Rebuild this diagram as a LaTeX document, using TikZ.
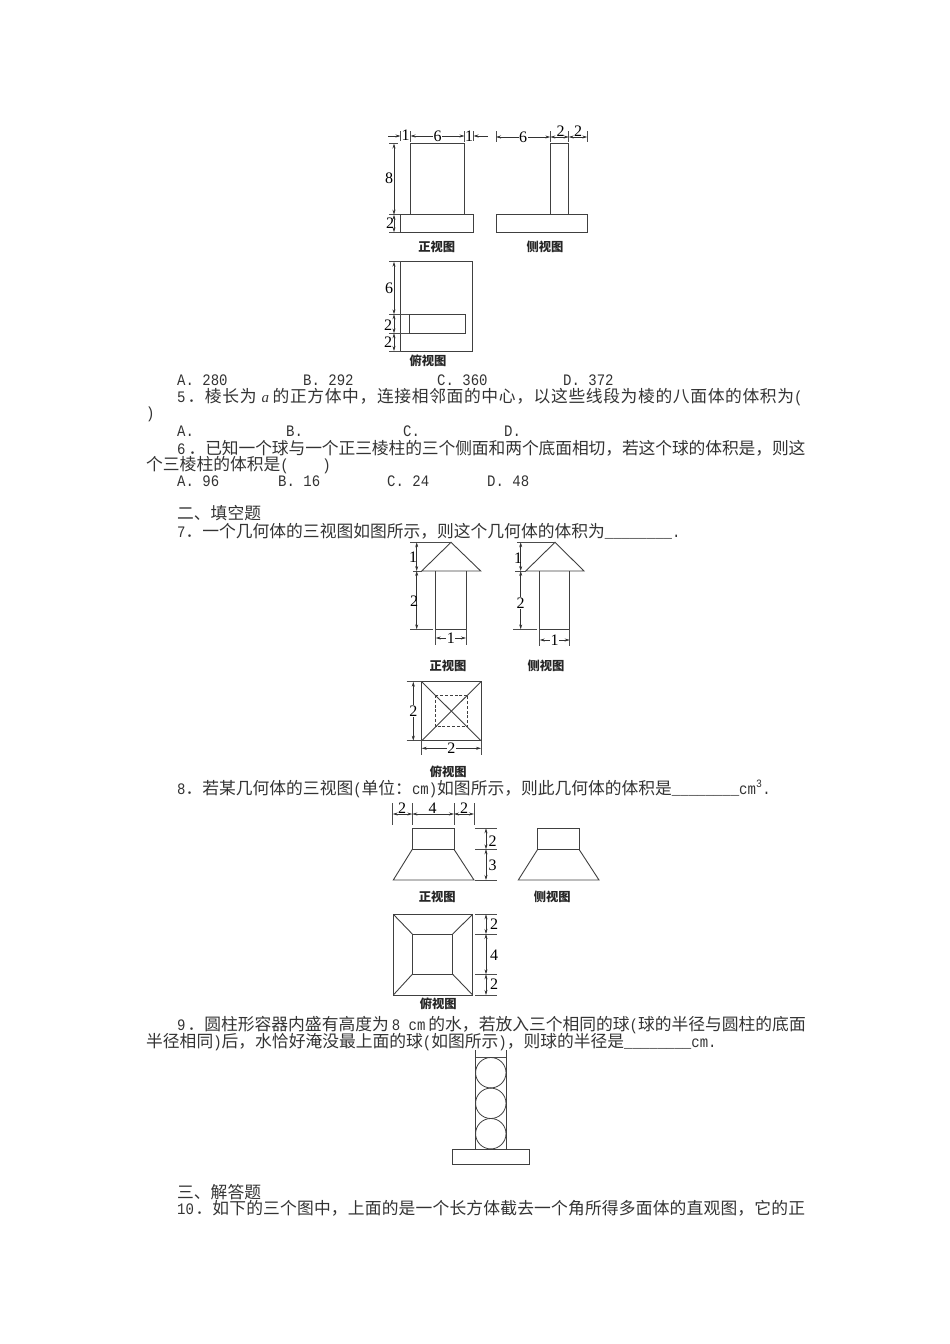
\documentclass[tikz,border=0pt]{standalone}
\usepackage{fontspec}
\usetikzlibrary{arrows.meta}
\newfontfamily\cjk{Noto Sans CJK SC}
\newfontfamily\latn[FakeStretch=0.875]{Liberation Mono}
\newfontfamily\numf{Liberation Serif}
\newcommand{\la}[1]{{\fontsize{16}{17}\selectfont\latn #1}}
\begin{document}
\begin{tikzpicture}[
  x=1pt, y=-1pt,
  txt/.style={anchor=base west, inner sep=0pt, text=black!80, font=\fontsize{16.77}{20}\selectfont\cjk},
  viewname/.style={inner sep=0pt, text=black!85, font=\fontsize{12.3}{14}\selectfont\cjk\bfseries},
  numlab/.style={inner sep=0.6pt, text=black, font=\fontsize{16}{17}\selectfont\numf},
  bodyline/.style={draw=black!75, line width=0.9pt},
  tickline/.style={draw=black!70, line width=0.6pt},
  dimline/.style={draw=black!80, line width=0.6pt, {Stealth[length=5pt,width=3pt]}-{Stealth[length=5pt,width=3pt]}},
  halfdim/.style={draw=black!80, line width=0.6pt, -{Stealth[length=5pt,width=3pt]}}
]
\useasboundingbox (0,0) rectangle (950,1344);

% first figure, front and side
\draw[bodyline] (410.5,143.5) rectangle (464.5,214.7);
\draw[bodyline] (400.7,214.7) rectangle (473.3,232.3);
\draw[bodyline] (550.3,143.5) rectangle (568.7,214.7);
\draw[bodyline] (496.7,214.7) rectangle (587.7,232.3);
\draw[tickline] (400.5,131) -- (400.5,141);
\draw[tickline] (410.5,131) -- (410.5,142);
\draw[tickline] (464.5,131) -- (464.5,142);
\draw[tickline] (473.5,131) -- (473.5,141);
\draw[halfdim] (388,136) -- (400.5,136);
\draw[halfdim] (488,136) -- (473.5,136);
\draw[dimline] (410.5,136) -- node[numlab,fill=white] (dimA) {6} (464.5,136);
\node[numlab] (dimB) at (405.7,135.5) {1};
\node[numlab] (dimC) at (469,136.5) {1};
\draw[tickline] (496,131) -- (496,142);
\draw[tickline] (550.3,131) -- (550.3,142);
\draw[tickline] (568.7,131) -- (568.7,142);
\draw[tickline] (587.3,131) -- (587.3,142);
\draw[dimline] (496,137) -- node[numlab,fill=white] (dimD) {6} (550.3,137);
\draw[dimline] (550.3,137) -- (568.7,137);
\draw[dimline] (568.7,137) -- (587.3,137);
\node[numlab] (dimE) at (560.7,131) {2};
\node[numlab] (dimF) at (578,131) {2};
\draw[tickline] (389,143.5) -- (398,143.5);
\draw[tickline] (389,214.7) -- (400,214.7);
\draw[tickline] (389,232.3) -- (400,232.3);
\draw[dimline] (394,143.5) -- (394,214.7);
\draw[dimline] (394,214.7) -- (394,232.3);
\node[numlab] (dimG) at (389,178) {8};
\node[numlab] (dimH) at (390,223) {2};
\node[viewname] (frontA) at (436.7,246.7) {正视图};
\node[viewname] (sideA) at (545,246.7) {侧视图};

% first figure, top
\draw[bodyline] (400.7,261.7) rectangle (472.7,351);
\draw[bodyline] (409,314.3) rectangle (465,333.3);
\draw[tickline] (389,261.7) -- (400.7,261.7);
\draw[tickline] (389,314.3) -- (409,314.3);
\draw[tickline] (389,333.3) -- (409,333.3);
\draw[tickline] (389,351) -- (400.7,351);
\draw[dimline] (394,261.7) -- (394,314.3);
\draw[dimline] (394,314.3) -- (394,333.3);
\draw[dimline] (394,333.3) -- (394,351);
\node[numlab] (dimI) at (389,288) {6};
\node[numlab] (dimJ) at (388,325) {2};
\node[numlab] (dimK) at (388,342) {2};
\node[viewname] (topA) at (428,360.7) {俯视图};

% text of the questions
\node[txt] (optA) at (177,385) {\la{A. 280}};
\node[txt] (optB) at (303,385) {\la{B. 292}};
\node[txt] (optC) at (437,385) {\la{C. 360}};
\node[txt] (optD) at (563,385) {\la{D. 372}};
\node[txt] (qFive) at (177,402) {\addfontfeature{LetterSpace=3.8}\la{5}\kern2pt ．棱长为\kern5pt{\fontsize{15}{17}\selectfont\numf\itshape a}\kern3.5pt 的正方体中，连接相邻面的中心，以这些线段为棱的八面体的体积为\la{(}};
\node[txt] (qFiveB) at (146,418) {\la{)}};
\node[txt] (optE) at (177,436) {\la{A.}};
\node[txt] (optF) at (286,436) {\la{B.}};
\node[txt] (optG) at (403,436) {\la{C.}};
\node[txt] (optH) at (504,436) {\la{D.}};
\node[txt] (qSix) at (177,454) {\addfontfeature{LetterSpace=-0.6}\la{6}\kern3pt ．已知一个球与一个正三棱柱的三个侧面和两个底面相切，若这个球的体积是，则这};
\node[txt] (qSixB) at (146,470) {个三棱柱的体积是\la{(\ \ \ \ )}};
\node[txt] (optI) at (177,486) {\la{A. 96}};
\node[txt] (optJ) at (278,486) {\la{B. 16}};
\node[txt] (optK) at (387,486) {\la{C. 24}};
\node[txt] (optL) at (487,486) {\la{D. 48}};
\node[txt] (headTwo) at (177,519) {二、填空题};
\node[txt] (qSeven) at (177,537) {\la{7}．一个几何体的三视图如图所示，则这个几何体的体积为\la{\_\_\_\_\_\_\_\_.}};
\node[txt] (qEight) at (177,794) {\la{8}．若某几何体的三视图\la{(}单位：\la{cm)}如图所示，则此几何体的体积是\la{\_\_\_\_\_\_\_\_cm\textsuperscript{3}.}};
\node[txt] (qNine) at (177,1030) {\la{9}\kern2pt ．圆柱形容器内盛有高度为\kern3pt\la{8 cm}\kern3pt 的水，若放入三个相同的球\la{(}球的半径与圆柱的底面};
\node[txt] (qNineB) at (146,1047) {半径相同\la{)}后，水恰好淹没最上面的球\la{(}如图所示\la{)}，则球的半径是\la{\_\_\_\_\_\_\_\_cm.}};
\node[txt] (headThree) at (177,1198) {三、解答题};
\node[txt] (qTen) at (177,1214) {\addfontfeature{LetterSpace=1}\la{10}\kern1.5pt ．如下的三个图中，上面的是一个长方体截去一个角所得多面体的直观图，它的正};

% question 7, front
\draw[bodyline] (421.7,571) -- (451,542.3) -- (480.7,571) -- cycle;
\draw[bodyline] (435.7,571) -- (435.7,629.3) -- (466,629.3) -- (466,571);
\draw[tickline] (410,542.3) -- (451,542.3);
\draw[tickline] (413,571) -- (421.7,571);
\draw[tickline] (410,629.3) -- (433,629.3);
\draw[dimline] (416.7,542.3) -- (416.7,571);
\draw[dimline] (416.7,571) -- (416.7,629.3);
\node[numlab] (dimL) at (413,557.7) {1};
\node[numlab] (dimM) at (414,600.7) {2};
\draw[tickline] (435.7,629.3) -- (435.7,645);
\draw[tickline] (466,629.3) -- (466,645);
\draw[dimline] (435.7,638) -- node[numlab,fill=white] (dimN) {1} (466,638);
\node[viewname] (frontB) at (448,665.7) {正视图};

% question 7, side
\draw[bodyline] (525.7,571) -- (555,542.3) -- (584,571) -- cycle;
\draw[bodyline] (539.7,571) -- (539.7,629.3) -- (569.7,629.3) -- (569.7,571);
\draw[tickline] (517,542.3) -- (555,542.3);
\draw[tickline] (515,571) -- (525.7,571);
\draw[tickline] (513,629.3) -- (536.7,629.3);
\draw[dimline] (520.7,542.3) -- (520.7,571);
\draw[dimline] (520.7,571) -- (520.7,629.3);
\node[numlab] (dimO) at (518,558) {1};
\node[numlab,fill=white] (dimP) at (520.7,603) {2};
\draw[tickline] (539.7,629.3) -- (539.7,645.7);
\draw[tickline] (569.7,629.3) -- (569.7,645.7);
\draw[dimline] (539.7,640) -- node[numlab,fill=white] (dimQ) {1} (569.7,640);
\node[viewname] (sideB) at (546,665.7) {侧视图};

% question 7, top
\draw[bodyline] (421.7,681.7) rectangle (481,740.7);
\draw[bodyline] (421.7,681.7) -- (481,740.7);
\draw[bodyline] (481,681.7) -- (421.7,740.7);
\draw[draw=black!75, line width=0.7pt, dashed, dash pattern=on 3pt off 1.8pt] (435.7,695) rectangle (467.7,726.7);
\draw[tickline] (406.7,681.7) -- (421.7,681.7);
\draw[tickline] (406.7,740.7) -- (421.7,740.7);
\draw[dimline] (413.3,681.7) -- node[numlab,fill=white] (dimR) {2} (413.3,740.7);
\draw[tickline] (421.7,740.7) -- (421.7,755);
\draw[tickline] (481,740.7) -- (481,755);
\draw[dimline] (421.7,748.3) -- node[numlab,fill=white] (dimS) {2} (481,748.3);
\node[viewname] (topB) at (448.3,771.7) {俯视图};

% question 8, front
\draw[bodyline] (412.3,828.3) rectangle (454,849.3);
\draw[bodyline] (412.3,849.3) -- (393.3,880) -- (474,880) -- (454,849.3);
\draw[tickline] (392.7,803.3) -- (392.7,825);
\draw[tickline] (412.3,803.3) -- (412.3,825);
\draw[tickline] (454,803.3) -- (454,825);
\draw[tickline] (474,803.3) -- (474,825);
\draw[dimline] (392.7,814) -- (412.3,814);
\draw[dimline] (412.3,814) -- (454,814);
\draw[dimline] (454,814) -- (474,814);
\node[numlab] (dimT) at (402,807.7) {2};
\node[numlab] (dimU) at (432.7,808) {4};
\node[numlab] (dimV) at (464,808) {2};
\draw[tickline] (475,828.3) -- (497.3,828.3);
\draw[tickline] (475,849.3) -- (497.3,849.3);
\draw[tickline] (475,880) -- (497.3,880);
\draw[dimline] (486,828.3) -- (486,849.3);
\draw[dimline] (486,849.3) -- (486,880);
\node[numlab] (dimW) at (492.7,840.7) {2};
\node[numlab] (dimX) at (492.7,865.7) {3};
\node[viewname] (frontC) at (437.3,896.7) {正视图};

% question 8, side
\draw[bodyline] (537.7,828.3) rectangle (579,849.3);
\draw[bodyline] (537.7,849.3) -- (518.3,880) -- (599,880) -- (579,849.3);
\node[viewname] (sideC) at (552.3,896.7) {侧视图};

% question 8, top
\draw[bodyline] (393.3,914.3) rectangle (472.7,995);
\draw[bodyline] (412.3,934) rectangle (452.7,974.3);
\draw[bodyline] (393.3,914.3) -- (412.3,934);
\draw[bodyline] (472.7,914.3) -- (452.7,934);
\draw[bodyline] (393.3,995) -- (412.3,974.3);
\draw[bodyline] (472.7,995) -- (452.7,974.3);
\draw[tickline] (475,914.3) -- (497.3,914.3);
\draw[tickline] (475,934) -- (497.3,934);
\draw[tickline] (475,974.3) -- (497.3,974.3);
\draw[tickline] (475,995) -- (497.3,995);
\draw[dimline] (486,914.3) -- (486,934);
\draw[dimline] (486,934) -- (486,974.3);
\draw[dimline] (486,974.3) -- (486,995);
\node[numlab] (dimY) at (494,924.3) {2};
\node[numlab] (dimZ) at (494,955.7) {4};
\node[numlab] (dimAA) at (494,984.3) {2};
\node[viewname] (topC) at (438.3,1004) {俯视图};

% question 9
\draw[bodyline] (475.7,1050) -- (475.7,1149);
\draw[bodyline] (506,1050) -- (506,1149);
\draw[tickline] (475.7,1057.7) -- (506,1057.7);
\draw[bodyline] (452.7,1149) rectangle (529.3,1164.3);
\draw[bodyline, line width=0.8pt] (490.8,1072.7) circle (15.2);
\draw[bodyline, line width=0.8pt] (490.8,1103.3) circle (15.2);
\draw[bodyline, line width=0.8pt] (490.8,1133.7) circle (15.2);
\end{tikzpicture}
\end{document}
